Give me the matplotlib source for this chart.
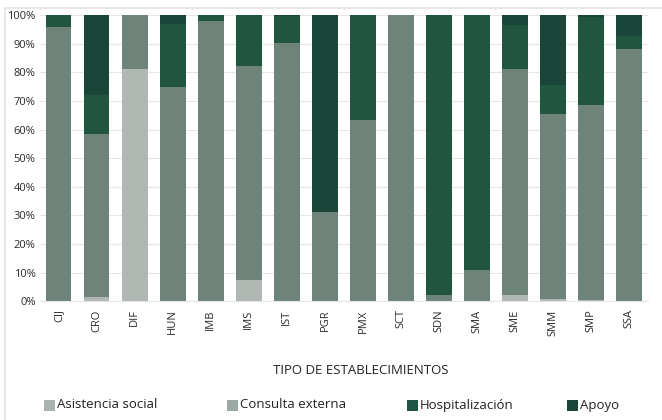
import matplotlib
matplotlib.use("Agg")
import matplotlib.pyplot as plt
from matplotlib.patches import Rectangle
from matplotlib.ticker import PercentFormatter
import numpy as np

plt.rcParams["font.family"] = ["Open Sans", "DejaVu Sans"]

categories = ["CIJ", "CRO", "DIF", "HUN", "IMB", "IMS", "IST", "PGR",
              "PMX", "SCT", "SDN", "SMA", "SME", "SMM", "SMP", "SSA"]

asistencia = [0.0, 1.5, 81.0, 0.0, 0.0, 7.3, 0.0, 0.0,
              0.0, 0.0, 0.0, 0.0, 2.0, 0.7, 0.3, 0.0]
consulta = [96.0, 57.0, 19.0, 75.0, 98.0, 74.9, 90.3, 31.0,
            63.4, 100.0, 2.0, 10.8, 79.0, 64.8, 68.2, 88.1]
hospital = [4.0, 13.5, 0.0, 22.0, 2.0, 17.8, 9.4, 0.0,
            36.6, 0.0, 98.0, 89.2, 15.5, 10.0, 31.0, 4.5]
apoyo = [0.0, 28.0, 0.0, 3.0, 0.0, 0.0, 0.3, 69.0,
         0.0, 0.0, 0.0, 0.0, 3.5, 24.5, 0.5, 7.4]

series_names = ["Asistencia social", "Consulta externa", "Hospitalización", "Apoyo"]
bar_colors = ["#b1b8b4", "#6e847a", "#20553f", "#1b4539"]
legend_colors = ["#aab2ae", "#9aaaa2", "#1f5545", "#1b4539"]
# left edge of each legend swatch, in figure pixels
legend_x_px = [44, 227, 407, 567]

W, H = 662, 420
fig = plt.figure(figsize=(W / 100, H / 100), dpi=100)
ax = fig.add_axes([0.060, 0.283, 0.919, 0.681])

x = np.arange(len(categories))
bottom = np.zeros(len(categories))
for values, color in zip([asistencia, consulta, hospital, apoyo], bar_colors):
    ax.bar(x, values, bottom=bottom, width=0.67, color=color, linewidth=0, zorder=2)
    bottom += np.array(values)

ax.set_xlim(-0.5, len(categories) - 0.5)
ax.set_ylim(0, 100)
ax.set_yticks(np.arange(0, 101, 10))
ax.yaxis.set_major_formatter(PercentFormatter(decimals=0))
ax.set_xticks(x)
ax.set_xticklabels(categories, rotation=90)
ax.tick_params(axis="both", length=0, labelsize=8, colors="#2a2a2a", pad=3)
ax.tick_params(axis="x", pad=6)
ax.grid(axis="y", color="#e6e6e6", linewidth=0.8, zorder=0)
for side in ["top", "right", "left"]:
    ax.spines[side].set_visible(False)
ax.spines["bottom"].set_color("#e6e6e6")

fig.text(0.545, 0.118, "TIPO DE ESTABLECIMIENTOS", ha="center", va="center",
         fontsize=9.5, color="#222222")

# legend drawn by hand so the swatches sit where the reference has them
sw = 11
y_mid = 405
for name, color, px in zip(series_names, legend_colors, legend_x_px):
    fig.patches.append(Rectangle((px / W, 1 - (y_mid + sw / 2) / H), sw / W, sw / H,
                                 transform=fig.transFigure, facecolor=color,
                                 edgecolor="none"))
    fig.text((px + sw + 2) / W, 1 - y_mid / H, name, ha="left", va="center",
             fontsize=9.5, color="#222222")

fig.patches.append(Rectangle((0.008, -0.01), 1.0, 0.99, transform=fig.transFigure,
                             fill=False, edgecolor="#e3e3e3", linewidth=1.2))

fig.savefig("out.png", dpi=100)
